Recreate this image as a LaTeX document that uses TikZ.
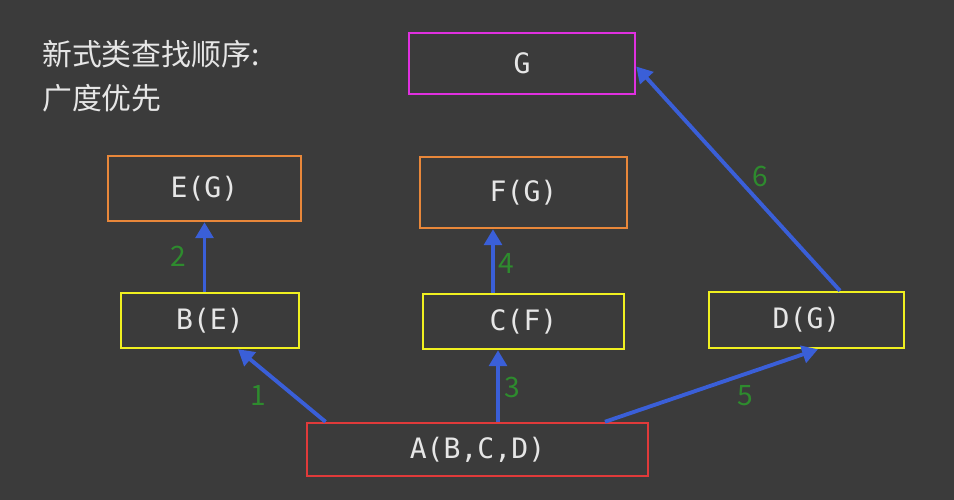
\documentclass[tikz,border=0pt]{standalone}
\usepackage{fontspec}
\newfontfamily\cjk{Noto Sans CJK SC}
\newfontfamily\monof{DejaVu Sans Mono}
\usetikzlibrary{arrows.meta, positioning}
\definecolor{bgc}{HTML}{3B3B3B}
\definecolor{txt}{HTML}{E6E6E6}
\definecolor{yel}{HTML}{F0F020}
\definecolor{org}{HTML}{E8873A}
\definecolor{mag}{HTML}{E030E0}
\definecolor{redb}{HTML}{E03A3A}
\definecolor{arr}{HTML}{3A5FD8}
\definecolor{num}{HTML}{2E8B2E}
\tikzset{
    cls/.style={draw=#1, line width=1.4pt, text=txt, font=\monof\fontsize{16}{20}\selectfont, inner sep=0pt},
    conn/.style={draw=arr, line width=2.2pt, -{Triangle[length=9pt, width=10pt]}},
    order/.style={text=num, font=\cjk\fontsize{16}{18}\selectfont},
}
\begin{document}
\begin{tikzpicture}[x=0.02cm, y=-0.02cm]
    \fill[bgc] (0,0) rectangle (954,500);
    \useasboundingbox (0,0) rectangle (954,500);

    \node[anchor=north west, text=txt, font=\cjk\fontsize{17}{25}\selectfont, align=left] (title) at (36,34) {新式类查找顺序:\\广度优先};

    \node[cls=mag, minimum width=4.52cm, minimum height=1.22cm] (G) at (522,63.5) {G};
    \node[cls=org, minimum width=3.86cm, minimum height=1.3cm] (E) at (204.5,188.5) {E(G)};
    \node[cls=org, minimum width=4.14cm, minimum height=1.42cm] (F) at (523.5,192.5) {F(G)};
    \node[cls=yel, minimum width=3.56cm, minimum height=1.1cm] (B) at (210,320.5) {B(E)};
    \node[cls=yel, minimum width=4.02cm, minimum height=1.1cm] (C) at (523.5,321.5) {C(F)};
    \node[cls=yel, minimum width=3.9cm, minimum height=1.12cm] (D) at (806.5,320) {D(G)};
    \node[cls=redb, minimum width=6.82cm, minimum height=1.06cm] (A) at (477.5,449.5) {A(B,C,D)};

    % connectors in search order
    \draw[conn] ([xshift=-3.04cm]A.north) -- ([xshift=0.56cm]B.south);
    \draw[conn] (B.north -| E.south) -- (E.south);
    \draw[conn] ([xshift=0.41cm]A.north) -- ([xshift=-0.51cm]C.south);
    \draw[conn] ([xshift=-0.61cm]C.north) -- ([xshift=-0.61cm]F.south);
    \draw[conn] ([xshift=2.55cm]A.north) -- ([xshift=0.23cm]D.south);
    \draw[conn] ([xshift=0.67cm]D.north) -- ([yshift=-0.06cm]G.east);

    \node[order] (n1) at (258,395) {1};
    \node[order] (n2) at (178,256) {2};
    \node[order] (n3) at (512,387) {3};
    \node[order] (n4) at (506,263) {4};
    \node[order] (n5) at (745,396) {5};
    \node[order] (n6) at (760,176) {6};
\end{tikzpicture}
\end{document}
